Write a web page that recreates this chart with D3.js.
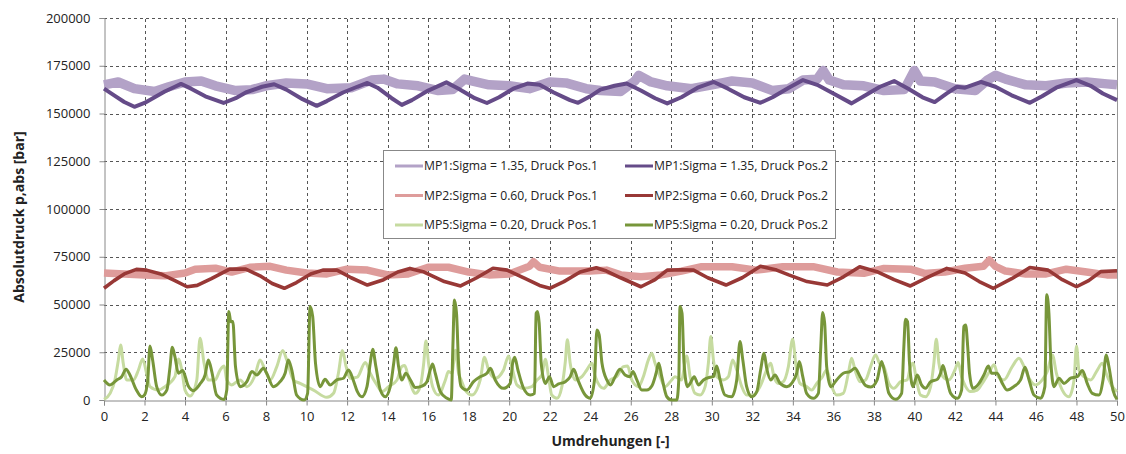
<!DOCTYPE html>
<html>
<head>
<meta charset="utf-8">
<script src="https://cdn.jsdelivr.net/npm/d3@7"></script>
<style>
  body { margin: 0; background: #fff; }
  svg { font-family: "Open Sans", "Liberation Sans", sans-serif; }
</style>
</head>
<body>
<div id="chart"></div>
<script>
// --- data: [Umdrehungen, Absolutdruck] ---
var xTicks = d3.range(0, 51, 2);
var yTicks = [0, 25000, 50000, 75000, 100000, 125000, 150000, 175000, 200000];

var mp1Pos1 = [[0,165000],[0.7,166500],[1.5,163000],[2.5,161500],[3.2,164000],[4,166500],[4.8,167000],[5.5,164500],[6.5,162000],[7.3,162500],[8,164500],[9,166000],[10,165500],[11,163000],[12.2,163500],[13.2,167500],[13.8,168000],[14.5,165500],[15.5,164500],[16.5,162000],[17.2,162500],[17.8,168000],[18.2,167000],[19,165000],[20,164500],[21,163000],[22,166500],[22.8,166000],[23.8,163000],[24.5,162000],[25.5,161500],[26.2,167000],[26.4,170000],[27,166500],[27.8,164500],[29,163000],[30,165000],[31,167000],[32,166000],[33,162000],[33.8,163000],[34.5,167500],[35.2,168000],[35.5,172500],[35.8,167500],[36.5,165000],[37.5,164500],[38.5,162000],[39.5,162500],[40,172500],[40.3,167000],[41,166500],[42,163000],[43,162000],[43.6,167500],[44,170000],[44.5,168000],[45.5,165000],[46.5,164500],[47.5,166000],[48.5,166500],[49.5,165500],[50,165000]];

var mp1Pos2 = [[0,163000],[0.5,159500],[1,156000],[1.5,153500],[2,155500],[2.5,158500],[3,161500],[3.5,164000],[3.8,165500],[4.3,163000],[5,159000],[5.9,155500],[6.5,158000],[7,161000],[7.8,164000],[8.4,165300],[9,162500],[9.8,157500],[10.5,154000],[11,156500],[11.8,161000],[12.5,164000],[13,166000],[13.5,163500],[14.2,158000],[14.7,154500],[15.2,157000],[16,162000],[16.9,166300],[17.5,163000],[18.3,158000],[18.9,155500],[19.5,158500],[20.2,163000],[20.9,165700],[21.5,165000],[22.2,161000],[23,157000],[23.4,155600],[24,159000],[24.5,162500],[25.2,164500],[25.8,165700],[26.5,162000],[27.2,158000],[27.8,155300],[28.5,158500],[29.3,163500],[30.1,166500],[30.8,163000],[31.6,158500],[32.4,155600],[33,158500],[33.8,163500],[34.5,167500],[35.2,165000],[36,160500],[36.9,155300],[37.5,159000],[38.3,164000],[39,167000],[39.7,163000],[40.4,158500],[41,156000],[41.6,160500],[42.1,164000],[42.5,163500],[43.3,166500],[44,164000],[44.8,159500],[45.7,155600],[46.3,159000],[47,163500],[48,167500],[48.7,164500],[49.3,160500],[50,157000]];

var mp2Pos1 = [[0,66500],[1,66000],[2,65500],[3,65000],[4,66500],[4.5,68500],[5.5,69000],[6.3,67000],[7.2,69500],[8.2,70000],[9,68000],[10,66500],[11,66000],[12,68500],[13,68000],[14,65500],[15,66000],[16,69500],[17,69500],[18,67000],[19,65500],[20,66000],[21,70000],[21.2,72400],[21.5,69500],[22.5,67500],[24,67500],[24.8,68000],[25.5,65500],[26.5,64500],[27.5,65500],[28.5,67500],[29.5,69800],[31,69800],[32.2,68000],[33.5,69800],[35,69800],[36.2,67000],[37.5,66300],[38.5,68900],[39.8,68500],[40.5,66300],[41.5,67000],[42.5,69000],[43.4,70000],[43.7,73300],[44,70000],[44.5,67500],[45.5,66000],[46.5,66000],[47.5,68500],[48.5,67000],[49.5,65500],[50,65500]];

var mp2Pos2 = [[0,58500],[0.5,62500],[1,66000],[1.6,68400],[2.1,68000],[2.8,66000],[3.5,62500],[4.1,59300],[4.6,60000],[5.3,63500],[6.2,68500],[7,68500],[7.7,65000],[8.3,61000],[8.9,58500],[9.5,61500],[10.2,66000],[10.8,68000],[11.5,68000],[12.2,64000],[13,60200],[13.8,63000],[14.5,67000],[15.1,68900],[15.8,67000],[16.8,62000],[17.6,59700],[18.4,64000],[19.2,69000],[19.9,68000],[20.8,63500],[21.5,60000],[22,58500],[22.7,62000],[23.5,67000],[24.3,69200],[24.8,67500],[25.5,64000],[26.5,59300],[27.2,63000],[27.8,68000],[28.5,68200],[29.1,68000],[29.8,64000],[30.7,60200],[31.5,64000],[32.4,70000],[33.2,68000],[33.8,65500],[34.7,62000],[35.7,60200],[36.5,64500],[37.3,69800],[38.2,67000],[39,63000],[39.8,59700],[40.7,64500],[41.6,68900],[42.5,66500],[43.2,62000],[43.9,58500],[44.8,63500],[45.7,69400],[46.6,68000],[47.3,63000],[48,59300],[48.6,62500],[49.2,67200],[50,67700]];

var mp5Pos1 = [[0,350],[0.3,3500],[0.54,10500],[0.71,21000],[0.82,28800],[0.95,19200],[1.12,10500],[1.45,10500],[1.7,15700],[1.91,21500],[2.1,14000],[2.27,7000],[2.68,5200],[3.01,7000],[3.5,12200],[3.67,21500],[3.84,15700],[4.0,5200],[4.25,2100],[4.58,10500],[4.74,32300],[4.94,19200],[5.15,10500],[5.48,10500],[5.73,15700],[5.93,17800],[6.06,10500],[6.3,7900],[6.72,10500],[7.05,7000],[7.46,13100],[7.7,21000],[7.95,15700],[8.2,10500],[8.53,17500],[8.82,25900],[9.02,21000],[9.35,10500],[9.68,8700],[10.0,7000],[10.34,5200],[11.0,1400],[11.33,3500],[11.57,14000],[11.77,25900],[11.95,17500],[12.15,11400],[12.5,12000],[12.9,19600],[13.14,14000],[13.47,7900],[13.72,4400],[14.05,7000],[14.46,10500],[14.7,17500],[14.84,18000],[15.04,11400],[15.37,3500],[15.61,7000],[15.78,19200],[15.89,30900],[16.02,19200],[16.22,7000],[16.5,2600],[16.85,10500],[17.0,14900],[17.17,14000],[17.35,26000],[17.5,14000],[17.63,10500],[17.83,5200],[18.16,2600],[18.57,10500],[18.78,22400],[18.98,15700],[19.31,11400],[19.72,15700],[19.97,23100],[20.13,17500],[20.38,7900],[20.71,6100],[21.12,7000],[21.37,10500],[21.61,13100],[21.78,21300],[21.94,12200],[22.1,2600],[22.36,900],[22.6,7000],[22.77,20100],[22.87,31500],[23.01,19200],[23.26,10500],[23.59,12200],[23.83,15700],[24.08,19200],[24.25,12200],[24.66,6100],[24.99,10500],[25.3,12200],[25.64,17500],[25.84,17800],[26.05,10500],[26.38,7000],[26.62,12200],[26.87,21000],[27.04,24500],[27.2,19200],[27.45,12200],[27.69,7000],[28.02,10500],[28.18,12200],[28.5,10500],[28.76,23100],[28.93,12200],[29.17,3500],[29.42,2600],[29.67,7000],[29.83,19200],[29.95,33200],[30.08,21000],[30.24,12200],[30.57,10500],[30.82,12200],[31.03,21000],[31.23,15700],[31.48,7000],[31.72,2600],[32.05,2600],[32.38,7000],[32.71,15700],[32.91,19200],[33.07,12200],[33.29,8700],[33.53,9600],[33.78,17500],[33.99,31800],[34.16,17500],[34.35,8700],[34.68,7000],[34.93,5200],[35.18,8700],[35.45,12000],[35.67,15700],[35.92,7000],[36.16,2600],[36.49,3500],[36.74,14000],[36.9,21800],[37.07,15700],[37.32,9600],[37.59,10500],[37.84,17500],[38.08,23600],[38.28,19200],[38.49,17500],[38.74,8700],[38.99,6100],[39.32,9600],[39.64,10500],[39.81,17500],[39.93,19200],[40.1,10500],[40.3,2600],[40.55,1700],[40.8,7000],[40.96,19200],[41.08,31800],[41.21,19200],[41.41,12200],[41.7,10500],[42.0,15700],[42.16,19600],[42.33,12200],[42.53,7000],[42.77,4400],[43.1,5200],[43.35,8700],[43.71,14900],[43.93,18400],[44.14,12200],[44.42,10500],[44.83,17500],[45.16,21800],[45.41,17500],[45.66,11400],[45.98,7900],[46.31,10500],[46.56,15000],[46.81,23600],[47.01,14000],[47.3,5200],[47.63,1700],[47.88,10500],[48.0,28300],[48.12,15700],[48.37,12200],[48.7,10500],[49.03,15700],[49.27,19200],[49.5,13000],[49.77,7000],[50,4400]];

var mp5Pos2 = [[0,10500],[0.3,7900],[0.63,10500],[0.87,12200],[1.09,16100],[1.28,13100],[1.6,5200],[1.86,1700],[2.0,2600],[2.16,10500],[2.27,28300],[2.4,21000],[2.6,7000],[2.85,2600],[3.1,5200],[3.26,17500],[3.37,27600],[3.5,22700],[3.67,14000],[3.88,15400],[4.16,7300],[4.41,4900],[4.74,8400],[4.99,13100],[5.15,21000],[5.32,14900],[5.56,2600],[5.93,300],[6.06,5200],[6.16,46300],[6.26,41000],[6.36,41100],[6.49,17500],[6.72,7000],[7.05,9600],[7.3,14900],[7.54,13100],[7.87,16600],[8.03,14000],[8.36,7000],[8.69,9600],[8.94,14000],[9.1,21000],[9.27,15700],[9.51,2600],[9.88,0],[10.05,3500],[10.17,48900],[10.3,43700],[10.44,19200],[10.67,7000],[10.91,10800],[11.16,7900],[11.49,10500],[11.82,11400],[12.07,15700],[12.3,10500],[12.5,4500],[12.73,1700],[12.98,7000],[13.14,19200],[13.26,26600],[13.42,17500],[13.64,5200],[13.88,1700],[14.13,7000],[14.3,19200],[14.41,27400],[14.54,17500],[14.7,10500],[14.9,14000],[15.12,10500],[15.37,6600],[15.7,7300],[15.94,9600],[16.1,15700],[16.22,18900],[16.35,14000],[16.6,4400],[16.93,900],[17.14,0],[17.22,28000],[17.3,52400],[17.4,45400],[17.5,19200],[17.63,7000],[17.9,5200],[18.24,9600],[18.57,12200],[18.9,14000],[19.07,16600],[19.31,10500],[19.72,6100],[20.05,8700],[20.17,19200],[20.27,22400],[20.43,15700],[20.71,6100],[21.04,2600],[21.25,3500],[21.33,45400],[21.4,46300],[21.48,40200],[21.58,19200],[21.78,8700],[21.99,12200],[22.19,7000],[22.44,8400],[22.77,9600],[23.01,12200],[23.18,16100],[23.39,10500],[23.75,2600],[24.0,900],[24.21,10500],[24.33,36700],[24.44,34100],[24.58,19200],[24.82,10500],[25.0,7900],[25.23,12200],[25.47,16100],[25.72,13100],[25.97,12200],[26.1,14900],[26.3,10500],[26.54,5200],[26.79,5200],[27.04,7300],[27.25,14000],[27.38,19200],[27.53,12200],[27.78,1700],[28.02,0],[28.27,0],[28.37,10500],[28.43,48900],[28.53,45400],[28.63,19200],[28.8,7000],[28.93,8700],[29.13,12200],[29.34,7900],[29.59,10500],[29.91,11900],[30.08,12200],[30.24,17800],[30.41,10500],[30.65,2600],[30.98,1700],[31.23,10500],[31.39,30600],[31.53,21000],[31.72,7000],[31.97,1700],[32.22,4400],[32.41,15700],[32.58,24500],[32.71,16600],[32.91,10500],[33.12,13100],[33.37,8700],[33.7,7000],[33.94,8700],[34.19,14000],[34.32,20100],[34.49,12200],[34.68,3500],[35.01,900],[35.26,3500],[35.38,28000],[35.47,45800],[35.57,40200],[35.67,17500],[35.87,7000],[36.16,10500],[36.49,14000],[36.82,14900],[37.07,16600],[37.32,12200],[37.6,7500],[37.85,6800],[38.16,10500],[38.38,20100],[38.54,14000],[38.74,3500],[39.07,350],[39.37,3500],[39.48,28000],[39.56,42300],[39.66,41100],[39.76,19200],[39.93,7000],[40.14,13100],[40.35,7900],[40.55,6100],[40.8,9600],[41.13,10800],[41.29,14000],[41.41,18000],[41.57,12200],[41.79,3500],[42.12,900],[42.33,5200],[42.44,38500],[42.53,39300],[42.63,28000],[42.72,14000],[42.89,6100],[43.19,8700],[43.43,13100],[43.65,17800],[43.81,14000],[44.08,14000],[44.34,8700],[44.58,5200],[44.91,7000],[45.24,10500],[45.46,17100],[45.66,10500],[45.9,2600],[46.23,900],[46.44,7000],[46.53,55100],[46.64,45400],[46.74,19200],[46.89,7000],[47.14,11400],[47.38,8700],[47.71,11400],[48.04,12200],[48.29,15400],[48.53,8700],[48.78,3500],[49.11,2600],[49.31,10500],[49.47,23600],[49.6,17500],[49.8,5200],[50,350]];

var seriesNames = [
    'MP1:Sigma = 1.35, Druck Pos.1', 'MP1:Sigma = 1.35, Druck Pos.2',
    'MP2:Sigma = 0.60, Druck Pos.1', 'MP2:Sigma = 0.60, Druck Pos.2',
    'MP5:Sigma = 0.20, Druck Pos.1', 'MP5:Sigma = 0.20, Druck Pos.2'
];
var seriesData = [mp1Pos1, mp1Pos2, mp2Pos1, mp2Pos2, mp5Pos1, mp5Pos2];

// --- styles ---
var colors = ['#B3A2C7', '#654B88', '#DE9C9B', '#983836', '#C6DBA0', '#77963A'];
// the Pos.1 traces are very noisy in the source, so they read as wide bands
var widths = [9.5, 4, 7.5, 3.6, 3, 3];
var legendWidths = [3, 3, 3, 3, 3, 3];

var width = 1126, height = 454;
var margin = {left: 104, right: 9, top: 18, bottom: 54};
var plotW = width - margin.left - margin.right;
var plotH = height - margin.top - margin.bottom;

var svg = d3.select('#chart').append('svg')
    .attr('width', width)
    .attr('height', height);

var x = d3.scaleLinear().domain([0, 50]).range([margin.left, margin.left + plotW]);
var y = d3.scaleLinear().domain([0, 200000]).range([margin.top + plotH, margin.top]);

// gridlines
var grid = svg.append('g').attr('class', 'grid');
grid.selectAll('.hgrid')
    .data(yTicks.filter(function (d) { return d > 0; }))
    .enter()
    .append('line')
    .attr('x1', x(0)).attr('x2', x(50))
    .attr('y1', function (d) { return Math.round(y(d)) + 0.5; })
    .attr('y2', function (d) { return Math.round(y(d)) + 0.5; })
    .attr('stroke', '#555')
    .attr('stroke-width', 1)
    .attr('stroke-dasharray', '3,3');
grid.selectAll('.vgrid')
    .data(xTicks.filter(function (d) { return d > 0 && d < 50; }))
    .enter()
    .append('line')
    .attr('y1', y(0)).attr('y2', y(200000))
    .attr('x1', function (d) { return Math.round(x(d)) + 0.5; })
    .attr('x2', function (d) { return Math.round(x(d)) + 0.5; })
    .attr('stroke', '#555')
    .attr('stroke-width', 1)
    .attr('stroke-dasharray', '3,3');

// right border
svg.append('line')
    .attr('x1', Math.round(x(50)) + 0.5).attr('x2', Math.round(x(50)) + 0.5)
    .attr('y1', y(0)).attr('y2', y(200000))
    .attr('stroke', '#999');

// axes
var xAxis = svg.append('g')
    .attr('transform', 'translate(0,' + (Math.round(y(0)) + 0.5) + ')')
    .call(d3.axisBottom(x).tickValues(xTicks).tickSize(5).tickPadding(6).tickFormat(d3.format('d')));
var yAxis = svg.append('g')
    .attr('transform', 'translate(' + (Math.round(x(0)) + 0.5) + ',0)')
    .call(d3.axisLeft(y).tickValues(yTicks).tickSize(5).tickPadding(9).tickFormat(d3.format('d')));

[xAxis, yAxis].forEach(function (a) {
    a.select('.domain').attr('stroke', '#888');
    a.selectAll('.tick line').attr('stroke', '#888');
    a.selectAll('.tick text')
        .attr('fill', '#222')
        .style('font-size', '13px')
        .style('font-family', '"Open Sans", sans-serif');
});

// series lines
var line = d3.line()
    .x(function (d) { return x(d[0]); })
    .y(function (d) { return y(d[1]); });
var drawOrder = [0, 2, 4, 1, 3, 5];
drawOrder.forEach(function (i) {
    svg.append('path')
        .datum(seriesData[i])
        .attr('fill', 'none')
        .attr('stroke', colors[i])
        .attr('stroke-width', widths[i])
        .attr('stroke-linejoin', 'round')
        .attr('stroke-linecap', 'butt')
        .attr('d', line.curve(i >= 4 ? d3.curveMonotoneX : d3.curveLinear));
});

// legend
var legend = svg.append('g').attr('class', 'legend');
legend.append('rect')
    .attr('x', 383.5).attr('y', 150.5)
    .attr('width', 452).attr('height', 88)
    .attr('fill', '#fff')
    .attr('stroke', '#888');
var legendItems = legend.selectAll('.item')
    .data(seriesNames)
    .enter()
    .append('g')
    .attr('class', 'item')
    .attr('transform', function (d, i) {
        var col = i % 2, row = Math.floor(i / 2);
        return 'translate(' + (395 + col * 230) + ',' + (166 + row * 29.5) + ')';
    });
legendItems.append('line')
    .attr('x1', 0).attr('x2', 28)
    .attr('y1', 0).attr('y2', 0)
    .attr('stroke', function (d, i) { return colors[i]; })
    .attr('stroke-width', function (d, i) { return legendWidths[i]; });
legendItems.append('text')
    .attr('x', 29)
    .attr('y', 0)
    .attr('dy', '0.35em')
    .attr('fill', '#222')
    .style('font-size', '12.2px')
    .text(function (d) { return d; });

// axis titles
svg.append('text')
    .attr('x', x(25))
    .attr('y', 446)
    .attr('text-anchor', 'middle')
    .attr('fill', '#222')
    .style('font-size', '14px')
    .style('font-weight', 'bold')
    .text('Umdrehungen [-]');
svg.append('text')
    .attr('transform', 'translate(24,' + (margin.top + plotH / 2 + 8) + ') rotate(-90)')
    .attr('text-anchor', 'middle')
    .attr('fill', '#222')
    .style('font-size', '14px')
    .style('font-weight', 'bold')
    .text('Absolutdruck p,abs [bar]');
</script>
</body>
</html>
